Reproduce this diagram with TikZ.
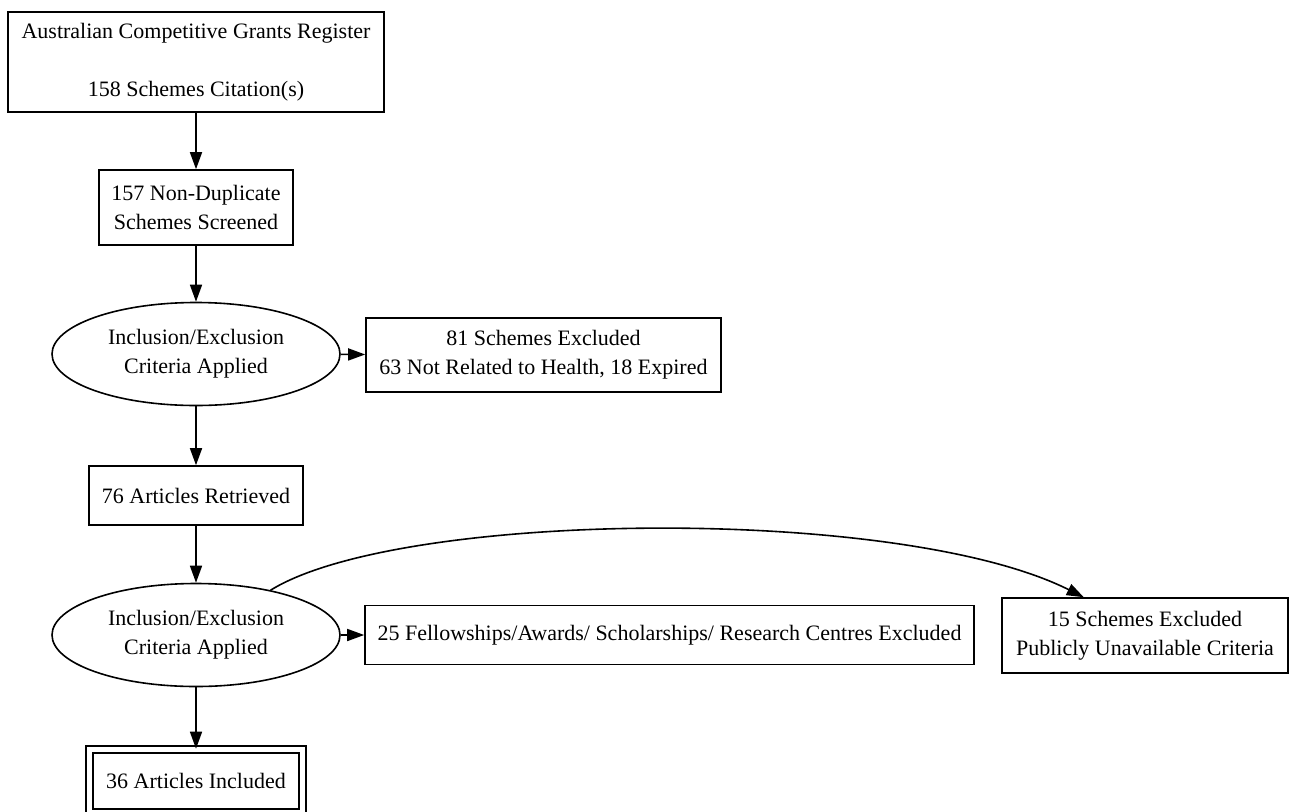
\documentclass[tikz,border=0pt]{standalone}
\usepackage{fontspec}
\setmainfont{Liberation Serif}
\usetikzlibrary{shapes.geometric,arrows.meta}
\tikzstyle{stagebox} = [draw=black, line width=1.6pt, rectangle, align=center,
inner sep=0pt, font=\fontsize{22}{29}\selectfont]
\tikzstyle{critnode} = [stagebox, ellipse, minimum width=288pt, minimum height=103pt]
\tikzstyle{finalbox} = [stagebox, double, double distance=5.4pt]
\tikzstyle{flowline} = [line width=1.6pt, -{Triangle[length=17pt,width=12pt]}]

\begin{document}
\begin{tikzpicture}[x=1pt,y=-1pt]
        \fill[white] (0,0) rectangle (1289,811);
        \useasboundingbox (0,0) rectangle (1289,811);
        \node [stagebox, minimum width=376pt, minimum height=100pt] (register) at (196,62)
            {Australian Competitive Grants Register\\~\\158 Schemes Citation(s)};
        \node [stagebox, minimum width=194pt, minimum height=75pt] (screened) at (196,207.5)
            {157 Non-Duplicate\\Schemes Screened};
        \node [critnode] (critA) at (196,354) {Inclusion/Exclusion\\Criteria Applied};
        \node [stagebox, minimum width=355pt, minimum height=74pt] (exclA) at (543.5,355)
            {81 Schemes Excluded\\63 Not Related to Health, 18 Expired};
        \node [stagebox, minimum width=214pt, minimum height=59pt] (retrieved) at (196,495.5)
            {76 Articles Retrieved};
        \node [critnode] (critB) at (196,635) {Inclusion/Exclusion\\Criteria Applied};
        \node [stagebox, minimum width=609pt, minimum height=59pt] (exclB) at (669.5,635)
            {25 Fellowships/Awards/ Scholarships/ Research Centres Excluded};
        \node [stagebox, minimum width=286pt, minimum height=75pt] (exclC) at (1145,635.5)
            {15 Schemes Excluded\\Publicly Unavailable Criteria};
        \node [finalbox, minimum width=213pt, minimum height=63pt] (included) at (196,781)
            {36 Articles Included};
        \draw [flowline] (register) -- (screened);
        \draw [flowline] (screened) -- (critA);
        \draw [flowline] (critA) -- (exclA);
        \draw [flowline] (critA) -- (retrieved);
        \draw [flowline] (retrieved) -- (critB);
        \draw [flowline] (critB) -- (exclB);
        \draw [flowline] (critB.31) .. controls (400,510) and (900,505) .. (exclC.148);
        \draw [flowline] (critB) -- (included);
    \end{tikzpicture}
\end{document}
